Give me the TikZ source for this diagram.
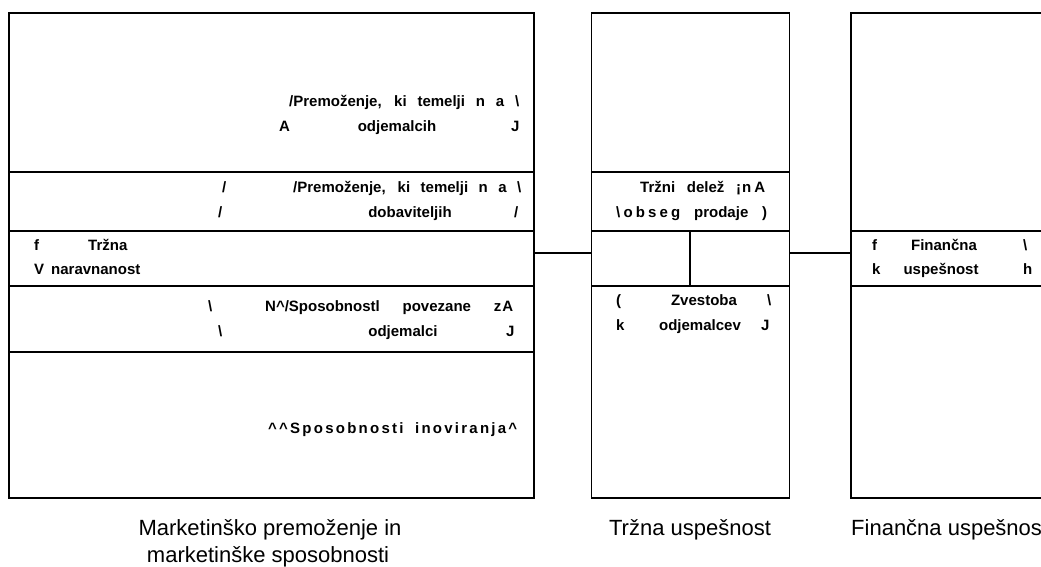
\documentclass[tikz,border=0pt]{standalone}
\usepackage{fontspec}
\setmainfont{Liberation Sans}
\begin{document}
\begin{tikzpicture}[x=1pt,y=-1pt,
  col/.style={draw, line width=1.3pt, inner sep=0pt, outer sep=0pt},
  rule/.style={line width=1.3pt},
  lbl/.style={font=\fontsize{15}{17}\selectfont\bfseries, anchor=base west, inner sep=0pt},
  lblc/.style={lbl, anchor=base},
  captext/.style={font=\fontsize{22}{26}\selectfont, inner sep=0pt, anchor=base}]
\useasboundingbox (0,0) rectangle (1041,566);
\clip (0,0) rectangle (1041,566);

% three columns
\node[col, minimum width=525pt, minimum height=485pt] (mk) at (271.5,255.5) {};
\node[col, minimum width=198pt, minimum height=485pt] (tu) at (690.5,255.5) {};
\node[col, minimum width=260pt, minimum height=485pt] (fu) at (981,255.5) {};

% row dividers
\foreach \yy in {172,231,286,352}
  \draw[rule] (mk.west |- 0,\yy) -- (mk.east |- 0,\yy);
\foreach \yy in {172,231,286}
  \draw[rule] (tu.west |- 0,\yy) -- (tu.east |- 0,\yy);
\foreach \yy in {231,286}
  \draw[rule] (fu.west |- 0,\yy) -- (fu.east |- 0,\yy);
\draw[rule] (690,231) -- (690,286);

% connectors
\coordinate (j1) at (0,253);
\draw[rule] (mk.east |- j1) -- (tu.west |- j1);
\draw[rule] (tu.east |- j1) -- (fu.west |- j1);

% marketing assets and capabilities
\node[lbl] (a1) at (289,106) {\makebox[230pt][s]{/Premoženje, ki temelji n a \textbackslash}};
\node[lbl] (a2) at (279,131) {A};
\node[lblc] (a3) at (397,131) {odjemalcih};
\node[lbl] (a4) at (511,131) {J};

\node[lbl] (b0) at (222,192) {/};
\node[lbl] (b1) at (293,192) {\makebox[228pt][s]{/Premoženje, ki temelji n a \textbackslash}};
\node[lbl] (b2) at (218,217) {/};
\node[lblc] (b3) at (410,217) {dobaviteljih};
\node[lbl] (b4) at (514,217) {/};

\node[lbl] (c1) at (34,250) {f};
\node[lbl] (c2) at (88,250) {Tržna};
\node[lbl] (c3) at (34,274) {V};
\node[lbl] (c4) at (51,274) {naravnanost};

\node[lbl] (d1) at (208,311) {\textbackslash};
\node[lbl] (d2) at (265,311) {\makebox[248pt][s]{N\^{}/Sposobnostl povezane z\kern1pt A}};
\node[lbl] (d3) at (218,336) {\textbackslash};
\node[lblc] (d4) at (403,336) {odjemalci};
\node[lbl] (d5) at (506,336) {J};

\node[lbl] (e1) at (268,433) {\makebox[249pt][s]{\addfontfeature{LetterSpace=15}\^{}\^{}Sposobnosti inoviranja\^{}}};

% market performance
\node[lbl] (f1) at (640,192) {\makebox[125pt][s]{Tržni delež ¡\kern1pt n\kern3pt A}};
\node[lbl] (f2) at (616,217) {\makebox[151pt][s]{{\addfontfeature{LetterSpace=21}\textbackslash obseg} prodaje )}};

\node[lbl] (g1) at (616,305) {(};
\node[lblc] (g2) at (704,305) {Zvestoba};
\node[lbl] (g3) at (767,305) {\textbackslash};
\node[lbl] (g4) at (616,330) {k};
\node[lblc] (g5) at (700,330) {odjemalcev};
\node[lbl] (g6) at (761,330) {J};

% financial performance
\node[lbl] (h1) at (872,250) {f};
\node[lblc] (h2) at (944,250) {Finančna};
\node[lbl] (h3) at (1023,250) {\textbackslash};
\node[lbl] (h4) at (872,274) {k};
\node[lblc] (h5) at (941,274) {uspešnost};
\node[lbl] (h6) at (1023,274) {h};

% column captions
\node[captext] (k1) at (270,535) {Marketinško premoženje in};
\node[captext] (k2) at (268,562) {marketinške sposobnosti};
\node[captext] (k3) at (690,535) {Tržna uspešnost};
\node[captext, anchor=base west] (k4) at (851,535) {Finančna uspešnost};
\end{tikzpicture}
\end{document}
